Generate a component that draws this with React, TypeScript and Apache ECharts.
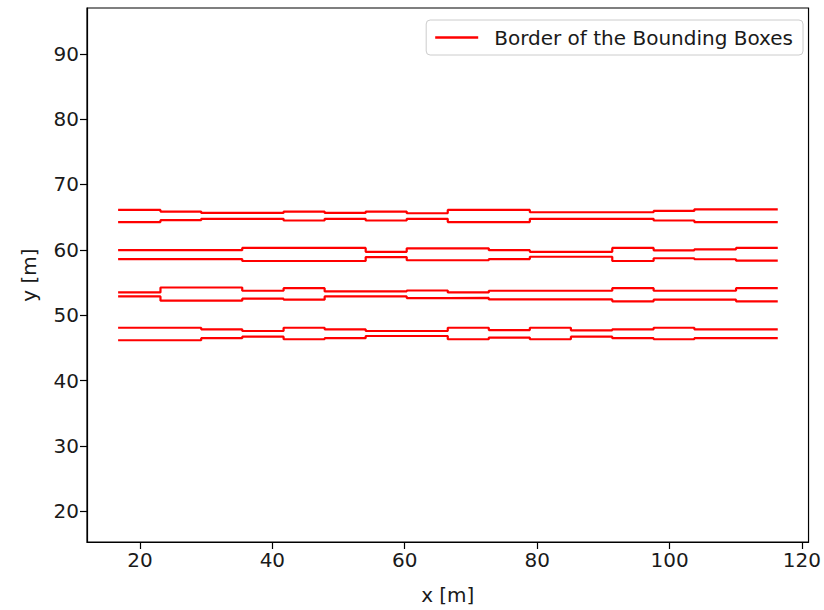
import React, { useEffect, useRef } from "react";
import * as echarts from "echarts";

// Box boundaries along x [m] (16 boxes per lane)
const boxEdgesX = [16.7, 23.1, 29.25, 35.45, 41.7, 47.9, 54.1, 60.3, 66.5, 72.7, 78.9, 85.1, 91.35, 97.6, 103.75, 110.05, 116.35];

// Lane 1 (top lane)
const lane1Top = [66.1, 65.85, 65.64, 65.64, 65.85, 65.64, 65.85, 65.6, 66.1, 66.1, 65.75, 65.75, 65.75, 65.95, 66.2, 66.2];
const lane1Bottom = [64.24, 64.54, 64.74, 64.74, 64.49, 64.74, 64.49, 64.74, 64.24, 64.24, 64.74, 64.74, 64.74, 64.49, 64.24, 64.24];

// Lane 2
const lane2Top = [59.95, 59.95, 59.95, 60.3, 60.3, 60.3, 59.7, 60.23, 60.23, 59.95, 59.7, 59.7, 60.3, 59.92, 60.08, 60.3];
const lane2Bottom = [58.59, 58.59, 58.59, 58.29, 58.29, 58.29, 58.9, 58.41, 58.41, 58.59, 58.94, 58.94, 58.29, 58.71, 58.56, 58.34];

// Lane 3
const lane3Top = [53.48, 54.24, 54.24, 53.74, 54.13, 53.63, 53.63, 53.78, 53.48, 53.74, 53.74, 53.74, 54.13, 53.74, 53.74, 54.13];
const lane3Bottom = [52.87, 52.22, 52.22, 52.53, 52.38, 52.87, 52.87, 52.62, 52.65, 52.42, 52.42, 52.42, 52.12, 52.38, 52.38, 52.12];

// Lane 4 (bottom lane)
const lane4Top = [48.08, 48.08, 47.84, 47.58, 48.08, 47.84, 47.58, 47.58, 48.08, 47.73, 48.08, 47.69, 47.84, 48.08, 47.84, 47.84];
const lane4Bottom = [46.17, 46.17, 46.48, 46.72, 46.32, 46.48, 46.82, 46.82, 46.32, 46.57, 46.32, 46.72, 46.48, 46.32, 46.48, 46.48];

const xTicks = [20, 40, 60, 80, 100, 120];
const yTicks = [20, 30, 40, 50, 60, 70, 80, 90];
const legendLabel = "Border of the Bounding Boxes";
const xName = "x [m]";
const yName = "y [m]";

export default function App() {
  const ref = useRef<HTMLDivElement>(null);

  useEffect(() => {
    document.body.style.margin = "0";
    const chart = echarts.init(ref.current as HTMLDivElement, null, { renderer: "svg" });
    const lanes = [
      lane1Top, lane1Bottom,
      lane2Top, lane2Bottom,
      lane3Top, lane3Bottom,
      lane4Top, lane4Bottom,
    ];
    const series = lanes.map((vals) => ({
      name: legendLabel,
      type: "line",
      step: "end",
      symbol: "none",
      silent: true,
      data: boxEdgesX.map((x, i) => [x, vals[Math.min(i, vals.length - 1)]]),
      lineStyle: { color: "#ff0000", width: 2.2 },
      itemStyle: { color: "#ff0000" },
    }));

    const font = "DejaVu Sans";
    const textColor = "#1a1a1a";

    chart.setOption({
      animation: false,
      backgroundColor: "#ffffff",
      textStyle: { fontFamily: font },
      grid: {
        left: 87,
        top: 8,
        width: 723,
        height: 540,
        show: true,
        borderColor: "#000000",
        borderWidth: 1.2,
        backgroundColor: "transparent",
      },
      legend: {
        data: [legendLabel],
        right: 21,
        top: 20,
        icon: "rect",
        itemWidth: 43,
        itemHeight: 2.5,
        padding: [6, 10, 6, 9],
        borderColor: "#cccccc",
        borderWidth: 1,
        borderRadius: 4,
        backgroundColor: "rgba(255,255,255,0.8)",
        textStyle: {
          fontFamily: font,
          fontSize: 20,
          color: textColor,
          lineHeight: 23,
          padding: [0, 0, 0, 11],
        },
      },
      xAxis: {
        type: "value",
        min: 12,
        max: 121,
        name: xName,
        nameLocation: "middle",
        nameGap: 43,
        nameTextStyle: { fontFamily: font, fontSize: 20, color: textColor },
        axisLine: { show: true, onZero: false, lineStyle: { color: "#000", width: 1.2 } },
        axisTick: { show: true, length: 7, customValues: xTicks, lineStyle: { color: "#000", width: 1.2 } },
        axisLabel: {
          customValues: xTicks,
          margin: 8,
          fontFamily: font,
          fontSize: 20,
          color: textColor,
        },
        splitLine: { show: false },
      },
      yAxis: {
        type: "value",
        min: 15.3,
        max: 97,
        name: yName,
        nameLocation: "middle",
        nameRotate: 90,
        nameGap: 48,
        nameTextStyle: { fontFamily: font, fontSize: 20, color: textColor },
        axisLine: { show: true, onZero: false, lineStyle: { color: "#000", width: 1.2 } },
        axisTick: { show: true, length: 7, customValues: yTicks, lineStyle: { color: "#000", width: 1.2 } },
        axisLabel: {
          customValues: yTicks,
          margin: 8,
          fontFamily: font,
          fontSize: 20,
          color: textColor,
        },
        splitLine: { show: false },
      },
      series,
    });

    return () => chart.dispose();
  }, []);

  return (
    <div
      ref={ref}
      style={{ position: "fixed", left: 0, top: 0, width: 824, height: 610 }}
    />
  );
}
